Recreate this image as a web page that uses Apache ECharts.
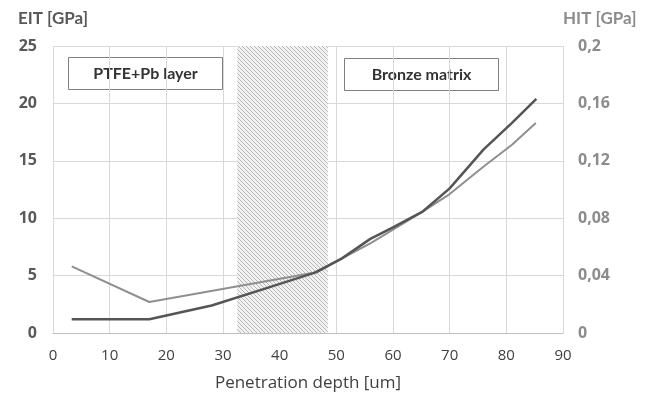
<!DOCTYPE html>
<html>
<head>
<meta charset="utf-8">
<script src="https://cdn.jsdelivr.net/npm/echarts@6/dist/echarts.min.js"></script>
<style>
html,body{margin:0;padding:0;background:#fff;}
#chart{width:653px;height:400px;}
</style>
</head>
<body>
<div id="chart"></div>
<script>
// EIT (left axis, GPa) - darker curve
var eitDepth = [3.3, 17, 28, 37, 46.5, 51, 56, 60, 65.3, 70, 76, 81, 85.3];
var eitValue = [1.2, 1.2, 2.4, 3.8, 5.3, 6.5, 8.2, 9.2, 10.6, 12.6, 16.0, 18.3, 20.4];
// HIT (right axis, GPa) - lighter curve
var hitDepth = [3.3, 17, 46, 51, 56, 65.3, 70, 76, 81, 85.2];
var hitValue = [0.0464, 0.0216, 0.0420, 0.052, 0.0624, 0.0848, 0.0968, 0.116, 0.1312, 0.1464];
// hatched transition zone
var zoneFrom = 32.5, zoneTo = 48.5;

function hatch(){
	var c = document.createElement('canvas');
	c.width = 4; c.height = 4;
	var ctx = c.getContext('2d');
	ctx.fillStyle = '#f2f2f2';
	ctx.fillRect(0,0,4,4);
	ctx.strokeStyle = '#b0b0b0';
	ctx.lineWidth = 0.9;
	ctx.beginPath();
	ctx.moveTo(-1,-1); ctx.lineTo(5,5);
	ctx.moveTo(-1,3); ctx.lineTo(1,5);
	ctx.moveTo(3,-1); ctx.lineTo(5,1);
	ctx.stroke();
	return c;
}

function pairs(xs, ys){
	var out = [];
	for(var i=0;i<xs.length;i++){
		out.push([xs[i], ys[i]]);
	}
	return out;
}

var font = 'Open Sans';
var myChart = echarts.init(document.getElementById('chart'));
var option = {
	animation: false,
	grid: {left: 53, right: 90, top: 46, bottom: 67},
	xAxis: {
		type: 'value', min: 0, max: 90, interval: 10,
		name: 'Penetration depth [um]', nameLocation: 'middle', nameGap: 42,
		nameTextStyle: {fontFamily: font, fontSize: 17, color: '#404040'},
		axisLine: {show: true, lineStyle: {color: '#bfbfbf'}},
		axisTick: {show: false},
		axisLabel: {fontFamily: font, fontSize: 15, color: '#404040', margin: 15},
		splitLine: {show: true, lineStyle: {color: '#d9d9d9'}}
	},
	yAxis: [{
		type: 'value', min: 0, max: 25, interval: 5,
		name: 'EIT [GPa]', nameGap: 19,
		nameTextStyle: {fontFamily: 'Lato', fontSize: 17, fontWeight: 'bold', color: '#595959'},
		axisLine: {show: false},
		axisTick: {show: false},
		axisLabel: {fontFamily: font, fontSize: 16, fontWeight: 'bold', color: '#595959', margin: 16},
		splitLine: {show: true, lineStyle: {color: '#d9d9d9'}}
	}, {
		type: 'value', min: 0, max: 0.2, interval: 0.04,
		name: 'HIT [GPa]', nameGap: 19,
		nameTextStyle: {fontFamily: 'Lato', fontSize: 17, fontWeight: 'bold', color: '#8c8c8c', align: 'left'},
		axisLine: {show: false},
		axisTick: {show: false},
		axisLabel: {fontFamily: font, fontSize: 16, fontWeight: 'bold', color: '#8c8c8c', margin: 15,
			formatter: function(v){ return String(parseFloat(v.toFixed(2))).replace('.', ','); }},
		splitLine: {show: false}
	}],
	series: [{
		name: 'zone', type: 'line', data: [], silent: true,
		markArea: {
			silent: true,
			itemStyle: {color: {image: hatch(), repeat: 'repeat'}},
			data: [[{xAxis: zoneFrom}, {xAxis: zoneTo}]]
		}
	}, {
		name: 'HIT', type: 'line', yAxisIndex: 1, showSymbol: false,
		data: pairs(hitDepth, hitValue),
		lineStyle: {color: '#8f8f8f', width: 2}
	}, {
		name: 'EIT', type: 'line', yAxisIndex: 0, showSymbol: false,
		data: pairs(eitDepth, eitValue),
		lineStyle: {color: '#555555', width: 2.5}
	}],
	graphic: [{
		type: 'group', left: 68, top: 57,
		children: [
			{type: 'rect', shape: {x: 0, y: 0, width: 154, height: 32}, style: {fill: '#fff', stroke: '#7f7f7f', lineWidth: 1}},
			{type: 'text', x: 77, y: 16, style: {text: 'PTFE+Pb layer', font: 'bold 16px Lato', fill: '#333', align: 'center', verticalAlign: 'middle'}}
		]
	}, {
		type: 'group', left: 344, top: 58,
		children: [
			{type: 'rect', shape: {x: 0, y: 0, width: 154, height: 32}, style: {fill: '#fff', stroke: '#7f7f7f', lineWidth: 1}},
			{type: 'text', x: 77, y: 16, style: {text: 'Bronze matrix', font: 'bold 16px Lato', fill: '#333', align: 'center', verticalAlign: 'middle'}}
		]
	}]
};
myChart.setOption(option);
</script>
</body>
</html>
